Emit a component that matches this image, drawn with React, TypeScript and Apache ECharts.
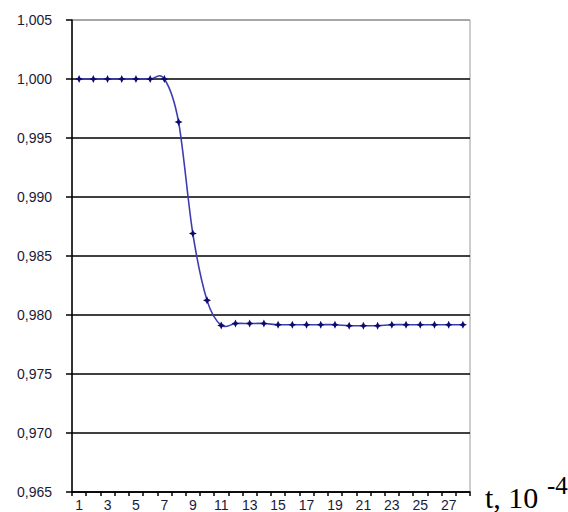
import React, { useEffect, useRef } from "react";
import * as echarts from "echarts";

const categories: string[] = Array.from({ length: 28 }, (_, i) => String(i + 1));
const values: number[] = [
  1.0, 1.0, 1.0, 1.0, 1.0, 1.0, 1.0, 0.99635, 0.9869, 0.98124,
  0.97912, 0.97928, 0.97928, 0.97928, 0.97918, 0.97918, 0.97918, 0.97918, 0.97918, 0.97909,
  0.97909, 0.97909, 0.97918, 0.97918, 0.97918, 0.97918, 0.97918, 0.97918,
];
const yMin = 0.965;
const yMax = 1.005;
const yStep = 0.005;
const axisTitle = "t, 10";
const axisTitleExp = "-4";

export default function App() {
  const ref = useRef<HTMLDivElement>(null);
  useEffect(() => {
    if (!ref.current) return;
    const chart = echarts.init(ref.current, undefined, { renderer: "svg" });
    const splitColors = Array.from({ length: 9 }, (_, i) => (i === 8 ? "#9a9a9a" : "#000000"));
    const curveData = values.map((v, i) => [i, v]);
    chart.setOption({
      animation: false,
      backgroundColor: "#ffffff",
      grid: {
        left: 72,
        right: 98,
        top: 20,
        bottom: 20,
        show: true,
        borderColor: "#9a9a9a",
        borderWidth: 1,
        backgroundColor: "transparent",
      },
      xAxis: {
        type: "category",
        data: categories,
        boundaryGap: true,
        axisLine: { lineStyle: { color: "#000", width: 1.5 } },
        axisTick: { show: true, interval: 0, length: 4, lineStyle: { color: "#000", width: 1.5 } },
        axisLabel: {
          interval: 1,
          margin: 6,
          fontFamily: "Liberation Sans",
          fontSize: 14,
          color: "#1a1a3a",
        },
        splitLine: { show: false },
      },
      yAxis: {
        type: "value",
        min: yMin,
        max: yMax,
        interval: yStep,
        axisLine: { show: true, lineStyle: { color: "#000", width: 1.5 } },
        axisTick: { show: true, length: 6, lineStyle: { color: "#000", width: 1.5 } },
        axisLabel: {
          margin: 20,
          fontFamily: "Liberation Sans",
          fontSize: 14,
          color: "#1a1a3a",
          formatter: (v: number) => v.toFixed(3).replace(".", ","),
        },
        splitLine: { show: true, lineStyle: { color: splitColors, width: 1.5 } },
      },
      series: [
        {
          type: "custom",
          data: curveData,
          z: 2,
          silent: true,
          renderItem: (params: any, api: any) => {
            if (params.dataIndex !== 0) return null;
            const pts = curveData.map((d) => api.coord(d));
            let d = `M${pts[0][0]},${pts[0][1]}`;
            for (let i = 0; i < pts.length - 1; i++) {
              const p0 = pts[Math.max(0, i - 1)];
              const p1 = pts[i];
              const p2 = pts[i + 1];
              const p3 = pts[Math.min(pts.length - 1, i + 2)];
              const k = 1 / 6;
              const c1x = p1[0] + (p2[0] - p0[0]) * k;
              const c1y = p1[1] + (p2[1] - p0[1]) * k;
              const c2x = p2[0] - (p3[0] - p1[0]) * k;
              const c2y = p2[1] - (p3[1] - p1[1]) * k;
              d += ` C${c1x},${c1y} ${c2x},${c2y} ${p2[0]},${p2[1]}`;
            }
            return {
              type: "path",
              shape: { pathData: d },
              style: { fill: "none", stroke: "#3d3db0", lineWidth: 1.6 },
            };
          },
        },
        {
          type: "line",
          data: values,
          z: 3,
          symbol: "path://M0,-10L3.2,-3.2L10,0L3.2,3.2L0,10L-3.2,3.2L-10,0L-3.2,-3.2Z",
          symbolSize: 8,
          showSymbol: true,
          lineStyle: { width: 0, opacity: 0 },
          itemStyle: { color: "#0a0a70", borderWidth: 0 },
        },
      ],
      graphic: [
        {
          type: "text",
          left: 485,
          top: 482,
          style: {
            text: axisTitle,
            fontSize: 30,
            fontFamily: "Liberation Serif",
            fill: "#000",
          },
        },
        {
          type: "text",
          left: 547,
          top: 473,
          style: {
            text: axisTitleExp,
            fontSize: 25,
            fontFamily: "Liberation Serif",
            fill: "#000",
          },
        },
      ],
    });
    return () => chart.dispose();
  }, []);
  return (
    <div
      ref={ref}
      style={{ position: "fixed", left: 0, top: 0, width: 568, height: 512 }}
    />
  );
}
